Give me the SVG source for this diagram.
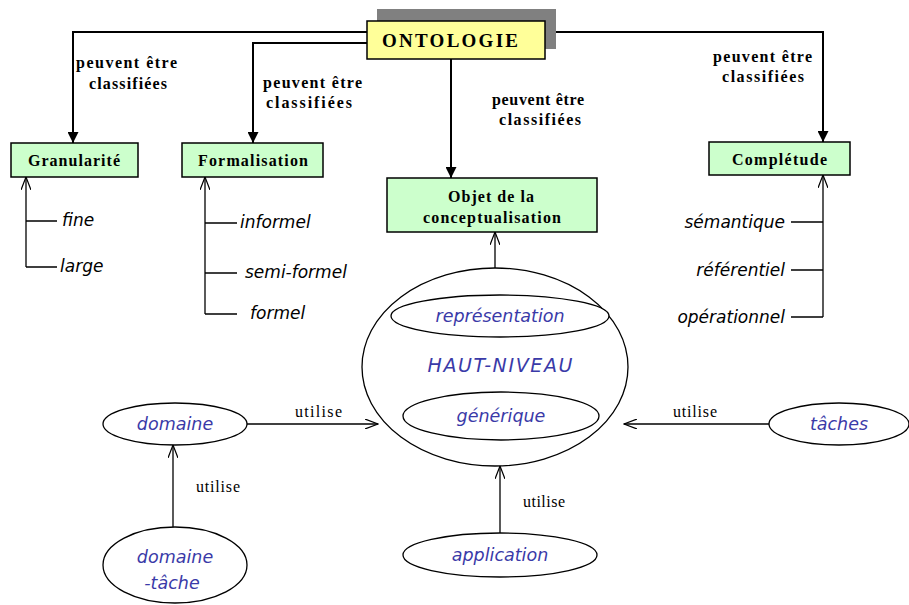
<svg xmlns="http://www.w3.org/2000/svg" width="909" height="605" viewBox="0 0 909 605">
<defs>
<marker id="fill" viewBox="0 0 10 10" refX="10" refY="5" markerWidth="11" markerHeight="11" markerUnits="userSpaceOnUse" orient="auto"><path d="M0,0 L10,5 L0,10 z" fill="#000"/></marker>
<marker id="open" viewBox="0 0 14 10" refX="13" refY="5" markerWidth="14" markerHeight="10" markerUnits="userSpaceOnUse" orient="auto"><path d="M0,0 L13,5 L0,10" fill="none" stroke="#000" stroke-width="1.2"/></marker>
<style>
.main{fill:none;stroke:#000;stroke-width:2}
.thin{fill:none;stroke:#000;stroke-width:1.3}
.box{fill:#ccffcc;stroke:#000;stroke-width:1.5}
.ell{fill:#fff;stroke:#000;stroke-width:1.3}
.lab{font-family:"Liberation Serif",serif;font-weight:bold;font-size:16px;fill:#000}
.bl{font-family:"Liberation Serif",serif;font-weight:bold;font-size:16px;fill:#000}
.it{font-family:"DejaVu Sans",sans-serif;font-style:italic;font-size:17px;fill:#000}
.blue{font-family:"DejaVu Sans",sans-serif;font-style:italic;font-size:17.5px;fill:#3a3aa8;text-anchor:middle}
.ut{font-family:"Liberation Serif",serif;font-size:16px;fill:#000}
</style>
</defs>
<g id="connectors">
<path class="main" d="M367,32 H73 V143" marker-end="url(#fill)"/>
<path class="main" d="M367,43 H253 V143" marker-end="url(#fill)"/>
<path class="main" d="M451,59 V178" marker-end="url(#fill)"/>
<path class="main" d="M545,32 H823 V142" marker-end="url(#fill)"/>
<path class="thin" d="M26,267 V177" marker-end="url(#open)"/>
<path class="thin" d="M26,221 H57 M26,267 H57"/>
<path class="thin" d="M205,314 V177" marker-end="url(#open)"/>
<path class="thin" d="M205,223 H237 M205,273 H237 M205,314 H237"/>
<path class="thin" d="M823,317 V175" marker-end="url(#open)"/>
<path class="thin" d="M791,222 H823 M791,270 H823 M791,317 H823"/>
<path class="thin" d="M495,268 V232" marker-end="url(#open)"/>
<path class="thin" d="M247,424 H378" marker-end="url(#open)"/>
<path class="thin" d="M769,424 H624" marker-end="url(#open)"/>
<path class="thin" d="M500,533 V466" marker-end="url(#open)"/>
<path class="thin" d="M173,527 V445" marker-end="url(#open)"/>
<text class="lab" x="76" y="68" textLength="101">peuvent être</text>
<text class="lab" x="89" y="89" textLength="78">classifiées</text>
<text class="lab" x="263" y="88" textLength="99">peuvent être</text>
<text class="lab" x="266" y="108" textLength="86">classifiées</text>
<text class="lab" x="492" y="105" textLength="92">peuvent être</text>
<text class="lab" x="499" y="125" textLength="82">classifiées</text>
<text class="lab" x="713" y="62" textLength="99">peuvent être</text>
<text class="lab" x="722" y="82" textLength="82">classifiées</text>
<text class="ut" x="295" y="417" textLength="47">utilise</text>
<text class="ut" x="673" y="417" textLength="44">utilise</text>
<text class="ut" x="196" y="492" textLength="44">utilise</text>
<text class="ut" x="523" y="507" textLength="42">utilise</text>
</g>
<g id="ontologie">
<rect x="377" y="9" width="179" height="40" fill="#808080"/>
<rect x="367" y="21" width="178" height="38" fill="#ffff99" stroke="#000" stroke-width="1.5"/>
<text x="382" y="47" font-family="Liberation Serif,serif" font-weight="bold" font-size="19" textLength="136">ONTOLOGIE</text>
</g>
<g id="granularite">
<rect class="box" x="11" y="143" width="127" height="34"/>
<text class="bl" x="28" y="166" textLength="92">Granularité</text>
<text class="it" x="62" y="226">fine</text>
<text class="it" x="60" y="272">large</text>
</g>
<g id="formalisation">
<rect class="box" x="182" y="143" width="141" height="34"/>
<text class="bl" x="198" y="166" textLength="110">Formalisation</text>
<text class="it" x="240" y="228">informel</text>
<text class="it" x="245" y="278">semi-formel</text>
<text class="it" x="250" y="319">formel</text>
</g>
<g id="objet">
<rect class="box" x="387" y="178" width="210" height="54"/>
<text class="bl" x="448" y="202" textLength="86">Objet de la</text>
<text class="bl" x="423" y="223" textLength="138">conceptualisation</text>
</g>
<g id="completude">
<rect class="box" x="709" y="142" width="141" height="33"/>
<text class="bl" x="732" y="165" textLength="95">Complétude</text>
<text class="it" x="785" y="228" text-anchor="end">sémantique</text>
<text class="it" x="785" y="276" text-anchor="end">référentiel</text>
<text class="it" x="785" y="323" text-anchor="end">opérationnel</text>
</g>
<g id="haut-niveau">
<ellipse class="ell" cx="495" cy="367" rx="133" ry="99"/>
<text class="blue" x="500" y="372" style="font-size:19px" textLength="145">HAUT-NIVEAU</text>
</g>
<g id="representation">
<ellipse class="ell" cx="500" cy="316" rx="109" ry="21"/>
<text class="blue" x="500" y="322">représentation</text>
</g>
<g id="generique">
<ellipse class="ell" cx="501" cy="416" rx="98" ry="24"/>
<text class="blue" x="501" y="422">générique</text>
</g>
<g id="domaine">
<ellipse class="ell" cx="175" cy="424" rx="72" ry="21"/>
<text class="blue" x="175" y="430">domaine</text>
</g>
<g id="domaine-tache">
<ellipse class="ell" cx="175" cy="565" rx="72" ry="38"/>
<text class="blue" x="175" y="563">domaine</text>
<text class="blue" x="172" y="589">-tâche</text>
</g>
<g id="application">
<ellipse class="ell" cx="500" cy="555" rx="97" ry="22"/>
<text class="blue" x="500" y="561">application</text>
</g>
<g id="taches">
<ellipse class="ell" cx="839" cy="424" rx="70" ry="21"/>
<text class="blue" x="839" y="430">tâches</text>
</g>
</svg>
